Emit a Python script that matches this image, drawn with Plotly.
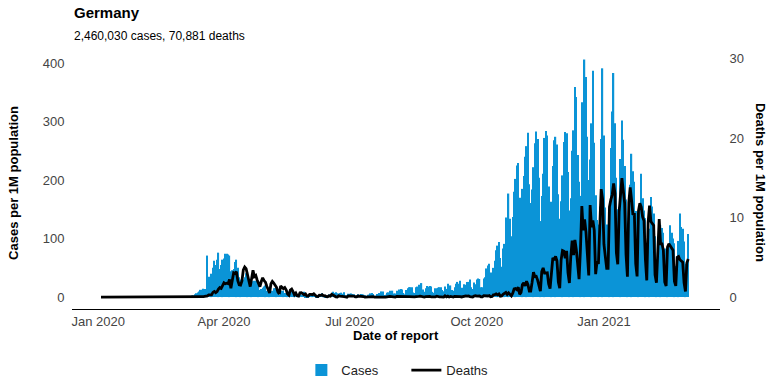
import pandas as pd
import plotly.graph_objects as go

# ---------------- data (per 1M population, daily, by date of report) ----------------
START_DATE = "2020-01-03"

cases_2020_01 = [0, 0, 0, 0, 0, 0, 0, 0, 0, 0, 0, 0, 0, 0, 0, 0, 0, 0, 0, 0, 0, 0, 0, 0, 0, 0, 0, 0, 0]
cases_2020_02 = [0, 0, 0, 0, 0, 0, 0, 0, 0, 0, 0, 0, 0, 0, 0, 0, 0, 0, 0, 0, 0, 0, 0, 0, 0, 0.1, 0.2, 0.3, 0.4]
cases_2020_03 = [0.7, 0.3, 0.4, 0.8, 1.0, 1.6, 1.9, 1.3, 2.7, 3.0, 5.0, 6.6, 8.1, 9.6, 12.5, 12.5, 14.1, 13.7,
                 14.0, 71, 35, 25, 40, 50, 62, 55, 64, 76, 48, 55, 64]
cases_2020_04 = [66, 74, 74, 73, 71, 44, 46, 48, 60, 64, 50, 34, 30, 25, 30, 34, 41, 43, 30, 21, 21, 27, 28, 28,
                 25, 21, 12, 14, 16, 18]
cases_2020_05 = [20, 11, 10, 8, 8, 11, 15, 15, 15, 8, 4, 11, 10, 11, 7, 7, 7, 4, 6, 10, 9, 6, 8, 5, 3.5, 5, 4, 4,
                 9, 3.4, 2.2]
cases_2020_06 = [2.6, 4, 4.1, 4.7, 6.1, 3.6, 1.6, 2.3, 4.2, 3.8, 6.7, 3.6, 3, 2.3, 3, 4.5, 4.1, 7, 9.3, 7.2, 8.3,
                 6.5, 6, 7.1, 7.6, 5.7, 8.3, 3.1, 3.1, 5.6]
cases_2020_07 = [5.6, 6, 5.4, 5, 2.9, 2.6, 4.8, 3.6, 5.3, 4.7, 4.5, 3, 1.9, 4.2, 4.2, 6.4, 7, 5.5, 2.4, 2.4, 5.5,
                 6.9, 6.8, 9.8, 9.4, 3.7, 4.1, 7.6, 8.2, 10.8, 10.5]
cases_2020_08 = [11, 6, 6, 11, 9, 13, 14, 13, 7, 5, 12, 15, 17, 17, 17, 8, 7, 17, 18, 21, 17, 24, 13, 9, 15, 19,
                 18, 19, 18, 9, 7]
cases_2020_09 = [15, 15, 16, 17, 17, 12, 10, 18, 14, 23, 18, 20, 12, 11, 17, 23, 26, 23, 28, 16, 11, 22, 21, 26,
                 26, 30, 17, 14, 25, 22]
cases_2020_10 = [30, 32, 31, 17, 17, 32, 34, 49, 54, 57, 42, 30, 50, 62, 80, 88, 94, 67, 52, 83, 91, 136, 135,
                 177, 134, 104, 137, 180, 202, 225, 229]
cases_2020_11 = [170, 145, 185, 207, 240, 258, 281, 193, 161, 184, 222, 263, 283, 270, 204, 130, 173, 211, 272,
                 284, 276, 189, 131, 163, 224, 268, 274, 261, 176, 134]
cases_2020_12 = [164, 208, 265, 282, 280, 214, 148, 169, 250, 285, 359, 342, 243, 197, 173, 333, 324, 406, 376,
                 274, 200, 235, 297, 387, 264, 174, 132, 124, 155, 270, 391]
cases_2021_01 = [276, 153, 124, 118, 143, 255, 317, 383, 297, 204, 150, 154, 236, 302, 269, 224, 167, 86, 137,
                 192, 245, 215, 197, 147, 77, 81, 159, 211, 169, 148, 135]
cases_2021_02 = [67, 73, 117, 171, 155, 143, 104, 55, 41, 97, 123, 118, 110, 83, 53, 46, 91, 123, 110, 100, 92,
                 53, 47, 96, 143, 120, 117, 95]
cases_2021_03 = [57, 47, 108]

deaths_2020_01 = [0, 0, 0, 0, 0, 0, 0, 0, 0, 0, 0, 0, 0, 0, 0, 0, 0, 0, 0, 0, 0, 0, 0, 0, 0, 0, 0, 0, 0]
deaths_2020_02 = [0, 0, 0, 0, 0, 0, 0, 0, 0, 0, 0, 0, 0, 0, 0, 0, 0, 0, 0, 0, 0, 0, 0, 0, 0, 0, 0, 0, 0]
deaths_2020_03 = [0, 0, 0, 0, 0, 0, 0, 0, 0.02, 0, 0.01, 0.04, 0.01, 0.02, 0.04, 0.05, 0.05, 0.1, 0.1, 0.16,
                  0.29, 0.32, 0.28, 0.59, 0.71, 0.56, 0.69, 1.01, 1.2, 1.1, 1.56]
deaths_2020_04 = [1.79, 1.68, 1.74, 1.69, 2.21, 1.11, 2.08, 3.05, 2.96, 3.2, 2.06, 1.55, 1.51, 2.04, 3.43, 3.79,
                  3.59, 2.91, 2.21, 1.32, 2.33, 3.38, 2.58, 2.73, 2.15, 1.68, 1.32, 1.96, 2.43, 2.08]
deaths_2020_05 = [1.88, 1.36, 0.79, 0.52, 1.67, 1.98, 1.77, 1.42, 1.24, 0.65, 0.4, 1.39, 1.21, 1.07, 1.21, 0.93,
                  0.4, 0.24, 0.87, 1.0, 0.69, 0.29, 0.5, 0.16, 0.12, 0.54, 0.56, 0.47, 0.29, 0.4, 0.13]
deaths_2020_06 = [0.12, 0.35, 0.35, 0.31, 0.42, 0.28, 0.08, 0.07, 0.24, 0.22, 0.31, 0.16, 0.17, 0.07, 0.05, 0.16,
                  0.12, 0.35, 0.26, 0.07, 0.04, 0.01, 0.16, 0.12, 0.13, 0.14, 0.07, 0.04, 0, 0.14]
deaths_2020_07 = [0.14, 0.11, 0.07, 0.13, 0.04, 0.04, 0.14, 0.14, 0.07, 0.08, 0.07, 0, 0.01, 0.06, 0.11, 0.07,
                  0.05, 0.05, 0.01, 0.01, 0.08, 0.08, 0.1, 0.08, 0.06, 0.01, 0, 0.07, 0.07, 0.08, 0.06]
deaths_2020_08 = [0.08, 0, 0.01, 0.08, 0.07, 0.11, 0.08, 0.06, 0, 0.01, 0.07, 0.05, 0.07, 0.04, 0.07, 0.01, 0.02,
                  0.06, 0.04, 0.08, 0.11, 0.07, 0.01, 0, 0.05, 0.07, 0.06, 0.1, 0.02, 0.01, 0]
deaths_2020_09 = [0.04, 0.11, 0.05, 0.04, 0.04, 0.01, 0, 0.16, 0.04, 0.12, 0.02, 0.08, 0.02, 0.01, 0.1, 0.11,
                  0.12, 0.14, 0.07, 0.02, 0.05, 0.16, 0.16, 0.12, 0.14, 0.06, 0.04, 0.02, 0.14, 0.18]
deaths_2020_10 = [0.12, 0.14, 0.14, 0.04, 0.04, 0.19, 0.16, 0.19, 0.14, 0.19, 0.04, 0.07, 0.29, 0.32, 0.4, 0.29,
                  0.4, 0.13, 0.16, 0.36, 0.47, 0.59, 0.34, 0.54, 0.35, 0.16, 0.5, 1.02, 1.07, 0.93, 1.24]
deaths_2020_11 = [0.35, 0.59, 1.57, 1.81, 1.42, 2.0, 1.56, 0.76, 0.76, 1.85, 3.14, 2.58, 2.62, 2.14, 1.29, 0.75,
                  3.21, 3.67, 3.02, 3.05, 3.05, 1.66, 1.08, 2.99, 4.93, 4.68, 5.12, 4.56, 1.9, 1.11]
deaths_2020_12 = [4.66, 5.85, 5.76, 4.88, 5.8, 3.06, 1.77, 5.08, 7.09, 5.29, 7.19, 5.96, 3.86, 2.26, 6.01, 11.44,
                  8.39, 9.77, 8.16, 4.92, 2.72, 11.56, 8.79, 9.64, 8.38, 2.88, 4.48, 4.18, 10.25, 13.57, 12.33]
deaths_2021_01 = [6.65, 5.1, 3.63, 3.63, 11.35, 12.25, 12.86, 14.28, 13.0, 5.6, 4.12, 10.71, 12.74, 14.95, 13.38,
                  11.78, 5.35, 2.57, 11.89, 13.8, 12.18, 10.32, 10.56, 4.19, 2.61, 10.85, 11.8, 11.31, 10.08,
                  9.58, 4.8]
deaths_2021_02 = [2.1, 9.4, 11.5, 9.5, 9.3, 9.0, 2.8, 1.8, 5.8, 9.8, 6.7, 6.7, 5.9, 1.9, 1.4, 6.3, 6.7, 6.4, 6.1,
                  5.9, 2.0, 1.4, 5.0, 5.1, 4.7, 4.6, 4.4, 1.8]
deaths_2021_03 = [0.7, 4.3, 4.8]

tick_dates = ["2020-01-01", "2020-04-01", "2020-07-01", "2020-10-01", "2021-01-01"]
tick_labels = ["Jan 2020", "Apr 2020", "Jul 2020", "Oct 2020", "Jan 2021"]
left_ticks = [0, 100, 200, 300, 400]
right_ticks = [0, 10, 20, 30]

TITLE = "Germany"
SUBTITLE = "2,460,030 cases, 70,881 deaths"

# ---------------- assemble ----------------
cases = (cases_2020_01 + cases_2020_02 + cases_2020_03 + cases_2020_04 + cases_2020_05 + cases_2020_06 +
         cases_2020_07 + cases_2020_08 + cases_2020_09 + cases_2020_10 + cases_2020_11 + cases_2020_12 +
         cases_2021_01 + cases_2021_02 + cases_2021_03)
deaths = (deaths_2020_01 + deaths_2020_02 + deaths_2020_03 + deaths_2020_04 + deaths_2020_05 + deaths_2020_06 +
          deaths_2020_07 + deaths_2020_08 + deaths_2020_09 + deaths_2020_10 + deaths_2020_11 + deaths_2020_12 +
          deaths_2021_01 + deaths_2021_02 + deaths_2021_03)
dates = pd.date_range(START_DATE, periods=len(cases), freq="D")

FONT = "Liberation Sans, Arial, Helvetica, sans-serif"
BLUE = "#0b94d7"
TXT = "#222222"
TICK = "#444444"

fig = go.Figure()
fig.add_trace(go.Bar(x=dates, y=cases, name="Cases", marker=dict(color=BLUE, line=dict(width=0)),
                     yaxis="y"))
fig.add_trace(go.Scatter(x=dates, y=deaths, name="Deaths", mode="lines",
                         line=dict(color="black", width=2.8), yaxis="y2"))

SCALE = 13.6  # cases-axis units per deaths-axis unit
y_lo, y_hi = -20.3, 424.0

fig.update_layout(
    width=784, height=392,
    margin=dict(l=72, r=64, t=49, b=83, autoexpand=False),
    paper_bgcolor="white", plot_bgcolor="white",
    font=dict(family=FONT, size=13, color=TXT),
    bargap=0.1,
    showlegend=True,
    legend=dict(orientation="h", x=0.516, xanchor="center", y=-0.235, yanchor="middle",
                font=dict(size=13, color=TXT), itemwidth=30, entrywidth=60, entrywidthmode="pixels",
                bgcolor="rgba(0,0,0,0)"),
    xaxis=dict(type="date", range=["2019-12-13", "2021-03-26"], tickvals=tick_dates, ticktext=tick_labels,
               showline=True, linecolor="black", linewidth=1, showgrid=False, zeroline=False,
               ticks="", automargin=False,
               tickfont=dict(size=13, color=TICK)),
    yaxis=dict(range=[y_lo, y_hi], tickvals=left_ticks, showgrid=False, zeroline=False, showline=False,
               ticks="outside", ticklen=4, tickcolor="rgba(0,0,0,0)", automargin=False,
               tickfont=dict(size=13, color=TICK)),
    yaxis2=dict(range=[y_lo / SCALE, y_hi / SCALE], tickvals=right_ticks, overlaying="y", side="right",
                showgrid=False, zeroline=False, showline=False, automargin=False,
                ticks="outside", ticklen=6, tickcolor="rgba(0,0,0,0)",
                tickfont=dict(size=13, color=TICK)),
    annotations=[
        dict(text="<b>" + TITLE + "</b>", x=0, xref="paper", xanchor="left", y=1.1385, yref="paper",
             yanchor="middle", showarrow=False, font=dict(size=15, color="black")),
        dict(text=SUBTITLE, x=0, xref="paper", xanchor="left", y=1.05, yref="paper",
             yanchor="middle", showarrow=False, font=dict(size=12, color="black")),
        dict(text="<b>Cases per 1M population</b>", x=-0.0895, xref="paper", xanchor="center",
             y=0.485, yref="paper", yanchor="middle", textangle=-90, showarrow=False,
             font=dict(size=13, color="black")),
        dict(text="<b>Deaths per 1M population</b>", x=1.0617, xref="paper", xanchor="center",
             y=0.485, yref="paper", yanchor="middle", textangle=90, showarrow=False,
             font=dict(size=13, color="black")),
        dict(text="<b>Date of report</b>", x=0.5, xref="paper", xanchor="center",
             y=-0.102, yref="paper", yanchor="middle", showarrow=False,
             font=dict(size=13, color="black")),
    ],
)

fig.write_html("out.html", config={"displayModeBar": False},
               post_script="document.body.style.margin='0px';")
